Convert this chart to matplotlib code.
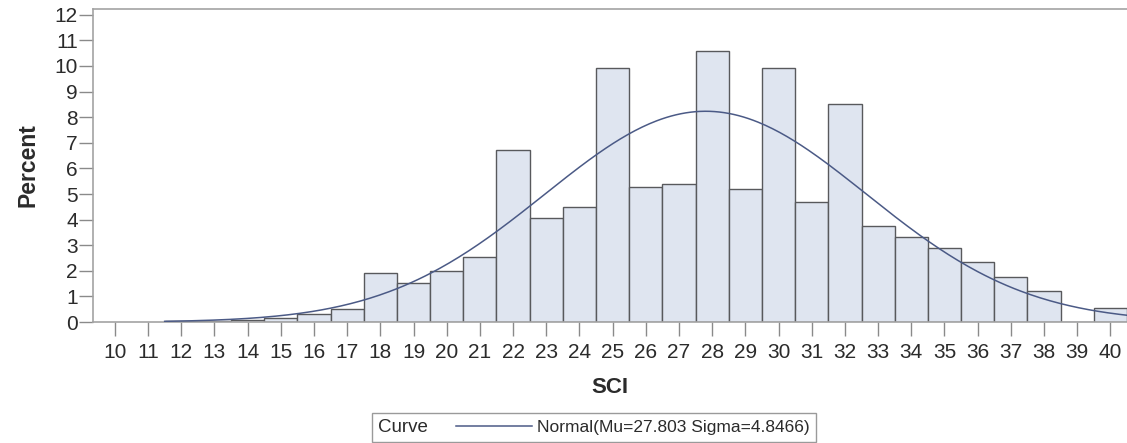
import matplotlib

matplotlib.use("Agg")
import matplotlib.pyplot as plt
import numpy as np
from matplotlib.lines import Line2D
from matplotlib.patches import Rectangle

# histogram of SCI (percent per unit-width bin, centred on integers)
sci_bins = list(range(12, 41))
percent = [
    0.04, 0.04, 0.09, 0.16, 0.33, 0.50, 1.90, 1.54, 2.00, 2.55,
    6.72, 4.05, 4.50, 9.93, 5.26, 5.38, 10.59, 5.18, 9.93, 4.67,
    8.53, 3.76, 3.31, 2.90, 2.36, 1.77, 1.21, 0.00, 0.56,
]
x_ticks = list(range(10, 41))
y_ticks = list(range(0, 13))

# fitted normal reported in the legend
MU = 27.803
SIGMA = 4.8466
BIN_WIDTH = 1.0

FONT = ["Liberation Sans", "DejaVu Sans"]
plt.rcParams["font.family"] = FONT

BAR_FILL = "#dfe5f0"
BAR_EDGE = "#58595c"
CURVE = "#4b5a86"
SPINE = "#a3a3a3"
TEXT = "#2b2b2b"

fig = plt.figure(figsize=(11.27, 4.43), dpi=100)
ax = fig.add_axes([0.0825, 0.273, 0.9175, 0.707])

ax.bar(
    sci_bins,
    percent,
    width=BIN_WIDTH,
    color=BAR_FILL,
    edgecolor=BAR_EDGE,
    linewidth=1.0,
    zorder=2,
)

grid_x = np.linspace(sci_bins[0] - 0.5, sci_bins[-1] + 0.5, 400)
density = np.exp(-0.5 * ((grid_x - MU) / SIGMA) ** 2) / (SIGMA * np.sqrt(2 * np.pi))
ax.plot(grid_x, 100 * BIN_WIDTH * density, color=CURVE, linewidth=1.1, zorder=3)

ax.set_xlim(9.34, 40.5)
ax.set_ylim(0, 12.23)
ax.set_xticks(x_ticks)
ax.set_yticks(y_ticks)
ax.tick_params(
    axis="both",
    colors="#8a8a8a",
    labelcolor=TEXT,
    labelsize=15,
    length=10,
    width=1.0,
)
ax.tick_params(axis="x", pad=5)
ax.tick_params(axis="y", pad=1)

for side in ("left", "top", "bottom"):
    ax.spines[side].set_color(SPINE)
    ax.spines[side].set_linewidth(1.2)
ax.spines["right"].set_visible(False)

ax.set_xlabel("SCI", fontsize=16, fontweight="bold", color=TEXT, labelpad=11)
ax.set_ylabel("Percent", fontsize=16.5, fontweight="bold", color=TEXT, labelpad=11)

# legend box below the axis: "Curve" title followed by the line entry
fig_w, fig_h = fig.get_size_inches() * fig.dpi
box_left, box_right = 372.5 / fig_w, 816 / fig_w
box_bottom, box_top = 1 - 442 / fig_h, 1 - 413 / fig_h
fig.add_artist(
    Rectangle(
        (box_left, box_bottom),
        box_right - box_left,
        box_top - box_bottom,
        transform=fig.transFigure,
        facecolor="white",
        edgecolor="#9a9a9a",
        linewidth=1.0,
    )
)
mid_y = (box_bottom + box_top) / 2
fig.text(378 / fig_w, mid_y, "Curve", fontsize=13.5, color=TEXT, va="center", ha="left")
fig.add_artist(
    Line2D(
        [456 / fig_w, 532 / fig_w],
        [mid_y + 1.5 / fig_h, mid_y + 1.5 / fig_h],
        transform=fig.transFigure,
        color=CURVE,
        linewidth=1.1,
    )
)
fig.text(
    537 / fig_w,
    mid_y,
    f"Normal(Mu={MU} Sigma={SIGMA})",
    fontsize=12.5,
    color=TEXT,
    va="center",
    ha="left",
)

fig.savefig("out.png", dpi=100)
